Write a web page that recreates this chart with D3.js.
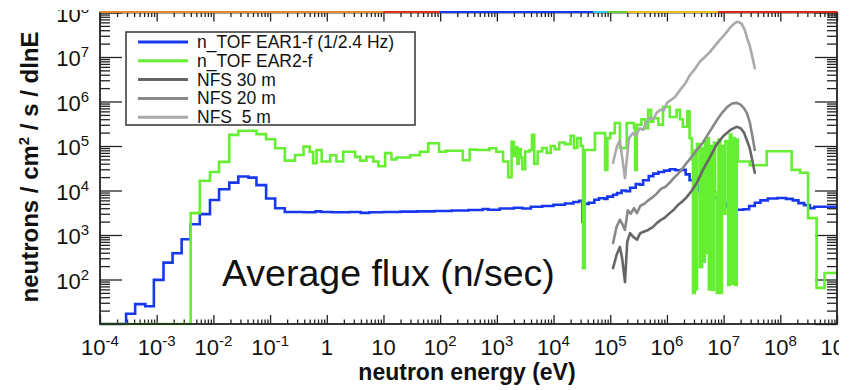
<!DOCTYPE html>
<html><head><meta charset="utf-8">
<script src="https://cdn.jsdelivr.net/npm/d3@7"></script>
<style>
body{margin:0;background:#fff}
svg{display:block}
text{font-family:Arial,"Liberation Sans",Helvetica,sans-serif;fill:#111}
</style>
</head><body>
<svg id="c" width="857" height="390"></svg>
<script>
// ---------------- DATA ----------------
// energy axis decades (exponents) and flux axis decades
const xTickExps = [-4,-3,-2,-1,0,1,2,3,4,5,6,7,8,9];
const yTickExps = [1,2,3,4,5,6,7,8];
const yLabelExps = [2,3,4,5,6,7,8];

// n_TOF EAR1 : [log10(E/eV) of bin start, flux]
const ear1Bins = [
 [-4.0,1],[-3.54,17],[-3.38,28],[-3.20,25],[-3.05,98],[-2.88,240],[-2.72,390],[-2.56,800],
 [-2.40,1740],[-2.24,2950],[-2.06,6100],[-1.90,10700],[-1.72,15000],[-1.56,20600],[-1.38,19500],
 [-1.24,13200],[-1.07,6600],[-0.91,3980],[-0.74,3300],[-0.40,3250],[-0.20,3400],[-0.10,3300],
 [0.10,3250],[0.40,3300],[0.60,3150],[0.75,3250],[1.00,3300],[1.30,3350],[1.60,3400],[1.90,3450],
 [2.20,3550],[2.50,3650],[2.75,3850],[2.85,3700],[3.05,3950],[3.30,4100],[3.45,3950],[3.60,4300],
 [3.80,4500],[4.00,4800],[4.20,5100],[4.35,5500],[4.45,5900],[4.51,2000],[4.54,5000],[4.62,5300],
 [4.72,6200],[4.80,6700],[4.90,6500],[4.95,7300],[5.05,8000],[5.12,8800],[5.20,10000],[5.28,9600],
 [5.35,11500],[5.45,14000],[5.52,13500],[5.58,17000],[5.68,21000],[5.76,24000],[5.85,26000],
 [5.95,28000],[6.05,30000],[6.15,28500],[6.25,29000],[6.33,23000],[6.40,17000],[6.48,13000],
 [6.56,9500],[6.64,7600],[6.75,6800],[6.90,5200],[7.05,4300],[7.20,3700],[7.35,3800],[7.45,4500],
 [7.55,5300],[7.65,6000],[7.78,6600],[7.95,6800],[8.10,6500],[8.22,6000],[8.32,5200],[8.42,4700],
 [8.52,4000],[8.60,4300]
];
const ear1End = 9.0;

// n_TOF EAR2 : [log10(E/eV) of bin start, flux]
const ear2Bins = [
 [-4.0,1],[-2.40,3100],[-2.24,16600],[-2.06,26000],[-1.90,44000],[-1.72,178000],[-1.56,220000],
 [-1.24,185000],[-1.07,142000],[-0.91,89000],[-0.74,47000],[-0.56,63000],[-0.41,97000],[-0.30,74000],
 [-0.24,41000],[-0.18,81000],[-0.09,45000],[0.06,62000],[0.17,45000],[0.29,74000],[0.50,57000],
 [0.59,47000],[0.70,57000],[0.82,45000],[0.91,35000],[1.03,69000],[1.14,50000],[1.23,55000],
 [1.47,62000],[1.64,74000],[1.79,115000],[1.98,74000],[2.10,78000],[2.40,48000],[2.52,83000],
 [2.64,81000],[2.87,89000],[2.99,74000],[3.11,45000],[3.20,20000],[3.26,125000],[3.30,60000],
 [3.33,95000],[3.36,40000],[3.39,85000],[3.42,55000],[3.45,30000],[3.50,75000],[3.58,81000],
 [3.62,178000],[3.66,40000],[3.72,75000],[3.80,90000],[3.88,70000],[3.95,100000],[4.02,85000],
 [4.10,120000],[4.20,110000],[4.30,170000],[4.36,90000],[4.42,150000],[4.48,100000],[4.52,180],
 [4.55,81000],[4.73,195000],[4.91,29000],[4.95,150000],[5.00,195000],[5.08,330000],[5.17,90000],
 [5.29,330000],[5.42,250000],[5.44,29000],[5.47,300000],[5.55,400000],[5.62,250000],[5.67,650000],
 [5.72,350000],[5.76,420000],[5.85,300000],[5.93,760000],[6.05,450000],[6.17,650000],[6.23,400000],
 [6.28,270000],[6.36,600000],[6.40,150000],[6.44,50000],[6.46,50],[6.49,80000],[6.51,60],
 [6.53,110000],[6.58,190],[6.62,90000],[6.64,250],[6.67,130000],[6.70,400],[6.72,150000],[6.74,60],
 [6.77,100000],[6.80,58],[6.83,120000],[6.85,9000],[6.88,50],[6.91,140000],[6.94,50],[6.97,100000],
 [6.99,3000],[7.03,130000],[7.08,75],[7.11,180000],[7.14,80],[7.17,150000],[7.20,75],[7.23,140000],
 [7.25,45000],[7.46,37000],[7.76,76000],[8.20,29000],[8.35,25000],[8.49,2400],[8.64,65],[8.78,140]
];
const ear2End = 9.0;

// NFS curves : [log10(E/eV), flux]
const nfs30 = [
 [5.05,180],[5.11,350],[5.17,540],[5.21,300],[5.26,87],[5.30,700],[5.35,1100],[5.41,900],[5.47,780],
 [5.53,1100],[5.60,1200],[5.67,1300],[5.75,1500],[5.83,1900],[5.90,2200],[5.97,2500],[6.05,3100],
 [6.13,3800],[6.20,4800],[6.28,5800],[6.35,7100],[6.44,10000],[6.53,15000],[6.64,30000],[6.76,56000],
 [6.88,110000],[7.00,170000],[7.12,230000],[7.23,270000],[7.30,250000],[7.36,200000],[7.41,135000],
 [7.46,90000],[7.51,45000],[7.55,25000]
];
const nfs20 = [
 [5.05,660],[5.11,1500],[5.17,2200],[5.22,1700],[5.26,1300],[5.31,3600],[5.36,3000],[5.42,4000],
 [5.47,3100],[5.53,4500],[5.60,5000],[5.67,6000],[5.75,7100],[5.82,8500],[5.90,11000],[5.97,12000],
 [6.05,15000],[6.12,19000],[6.20,24000],[6.28,32000],[6.35,42000],[6.45,60000],[6.54,85000],
 [6.63,117000],[6.72,180000],[6.80,260000],[6.88,380000],[6.97,550000],[7.06,750000],[7.15,900000],
 [7.23,930000],[7.30,850000],[7.36,700000],[7.41,550000],[7.46,350000],[7.51,160000],[7.55,81000]
];
const nfs5 = [
 [5.05,42000],[5.12,100000],[5.17,135000],[5.26,19000],[5.33,150000],[5.40,195000],[5.45,170000],
 [5.52,250000],[5.58,230000],[5.63,330000],[5.70,430000],[5.76,400000],[5.82,560000],[5.88,650000],
 [5.94,620000],[6.00,930000],[6.08,1100000],[6.15,1300000],[6.23,1800000],[6.32,2500000],
 [6.41,4000000],[6.50,5500000],[6.58,7800000],[6.67,10000000],[6.76,13000000],[6.85,18000000],
 [6.93,24000000],[7.02,32000000],[7.11,45000000],[7.18,55000000],[7.23,62000000],[7.28,60000000],
 [7.32,55000000],[7.37,42000000],[7.41,28000000],[7.46,18000000],[7.50,11000000],[7.55,5600000]
];

const legendLabels = ["n_TOF EAR1-f (1/2.4 Hz)","n_TOF EAR2-f","NFS 30 m","NFS 20 m","NFS  5 m"];
const legendColors = ["#1838f0","#66ee33","#666666","#888888","#aaaaaa"];

// decorative coloured strip on the top frame (from an underlying figure): edges (log10 E) & colours
const topStripEdges = [-4.0,1.0,2.0,4.7,4.95,5.3,6.9,9.0];
const topStripColors = ["#e8892a","#e0301c","#1838f0","#33ccee","#66cc33","#e8c020","#d8281c"];

// ---------------- DRAW ----------------
const svg = d3.select("#c");
const X0=100, X1=837, Y0=12.5, Y1=324;
const x = d3.scaleLog().domain([1e-4,1e9]).range([X0,X1]);
const y = d3.scaleLog().domain([10,1e8]).range([Y1,Y0]).clamp(true);

const defs = svg.append("defs");
defs.append("clipPath").attr("id","crop").append("rect").attr("x",0).attr("y",10).attr("width",839).attr("height",380);
defs.append("clipPath").attr("id","plot").append("rect").attr("x",X0).attr("y",Y0).attr("width",X1-X0).attr("height",Y1-Y0+1.5);

const root = svg.append("g").attr("clip-path","url(#crop)");

const isMajor = v => Math.abs(Math.log10(v)-Math.round(Math.log10(v)))<1e-9;
const majorX = xTickExps.map(k=>Math.pow(10,k));
const minorX = x.ticks(60).filter(v=>!isMajor(v));
const majorY = yTickExps.map(k=>Math.pow(10,k));
const minorY = y.ticks(60).filter(v=>!isMajor(v));

function axisStyle(g){ g.select(".domain").remove(); g.selectAll("line").attr("stroke","#222").attr("stroke-width",1.3); g.selectAll("text").remove(); }

root.append("g").attr("transform",`translate(0,${Y1})`).call(d3.axisBottom(x).tickValues(majorX).tickSize(-9)).call(axisStyle);
root.append("g").attr("transform",`translate(0,${Y1})`).call(d3.axisBottom(x).tickValues(minorX).tickSize(-4.5)).call(axisStyle);
root.append("g").attr("transform",`translate(0,${Y0})`).call(d3.axisTop(x).tickValues(majorX).tickSize(-9)).call(axisStyle);
root.append("g").attr("transform",`translate(0,${Y0})`).call(d3.axisTop(x).tickValues(minorX).tickSize(-4.5)).call(axisStyle);
root.append("g").attr("transform",`translate(${X0},0)`).call(d3.axisLeft(y).tickValues(majorY).tickSize(-22)).call(axisStyle);
root.append("g").attr("transform",`translate(${X0},0)`).call(d3.axisLeft(y).tickValues(minorY).tickSize(-10)).call(axisStyle);
root.append("g").attr("transform",`translate(${X1},0)`).call(d3.axisRight(y).tickValues(majorY).tickSize(-22)).call(axisStyle);
root.append("g").attr("transform",`translate(${X1},0)`).call(d3.axisRight(y).tickValues(minorY).tickSize(-10)).call(axisStyle);

// data
const plot = root.append("g").attr("clip-path","url(#plot)");
const stepLine = d3.line().x(d=>x(Math.pow(10,d[0]))).y(d=>y(d[1])).curve(d3.curveStepAfter);
const curveLine = d3.line().x(d=>x(Math.pow(10,d[0]))).y(d=>y(d[1]));

const ear1Pts = ear1Bins.concat([[ear1End, ear1Bins[ear1Bins.length-1][1]]]);
const ear2Pts = ear2Bins.concat([[ear2End, ear2Bins[ear2Bins.length-1][1]]]);

plot.append("path").attr("d",stepLine(ear1Pts)).attr("fill","none").attr("stroke",legendColors[0]).attr("stroke-width",2.6);
plot.append("path").attr("d",stepLine(ear2Pts)).attr("fill","none").attr("stroke",legendColors[1]).attr("stroke-width",2.6);
[[nfs30,legendColors[2]],[nfs20,legendColors[3]],[nfs5,legendColors[4]]].forEach(([d,c])=>{
  plot.append("path").attr("d",curveLine(d)).attr("fill","none").attr("stroke",c).attr("stroke-width",2.6).attr("stroke-linejoin","round").attr("stroke-linecap","round");
});

// frame
root.append("rect").attr("x",X0).attr("y",Y0).attr("width",X1-X0).attr("height",Y1-Y0).attr("fill","none").attr("stroke","#222").attr("stroke-width",1.8);

// top coloured strip
topStripColors.forEach((c,i)=>{
  root.append("line").attr("x1",x(Math.pow(10,topStripEdges[i]))).attr("x2",x(Math.pow(10,topStripEdges[i+1])))
    .attr("y1",Y0-0.5).attr("y2",Y0-0.5).attr("stroke",c).attr("stroke-width",2);
});

// tick labels
function powLabel(sel, k, main, sup){
  if(k===0){ sel.text("1"); return; }
  if(k===1){ sel.text("10"); return; }
  sel.append("tspan").text("10");
  sel.append("tspan").attr("dy",-9).attr("font-size",sup).text(String(k));
}
xTickExps.forEach(k=>{
  const t = root.append("text").attr("x",x(Math.pow(10,k))).attr("y",355).attr("text-anchor","middle").attr("font-size",22);
  powLabel(t,k,22,15);
});
yLabelExps.forEach(k=>{
  const t = root.append("text").attr("x",89).attr("y",y(Math.pow(10,k))+9).attr("text-anchor","end").attr("font-size",22);
  powLabel(t,k,22,15);
});

// axis titles
root.append("text").attr("x",467).attr("y",380).attr("text-anchor","middle").attr("font-size",23).attr("font-weight","bold").text("neutron energy (eV)");
const yt = root.append("text").attr("transform","translate(38,167) rotate(-90)").attr("text-anchor","middle").attr("font-size",24).attr("font-weight","bold");
yt.append("tspan").text("neutrons / cm");
yt.append("tspan").attr("dy",-9).attr("font-size",15).text("2");
yt.append("tspan").attr("dy",9).text(" / s / dlnE");

// legend
const lg = root.append("g");
lg.append("rect").attr("x",126).attr("y",32).attr("width",289).attr("height",93).attr("fill","#fff").attr("stroke","#333").attr("stroke-width",1.5);
legendLabels.forEach((l,i)=>{
  const yy = 42 + i*18.8;
  lg.append("line").attr("x1",138).attr("x2",188).attr("y1",yy).attr("y2",yy).attr("stroke",legendColors[i]).attr("stroke-width",3);
  lg.append("text").attr("x",197).attr("y",yy+6).attr("font-size",17.5).text(l).style("white-space","pre").attr("xml:space","preserve");
});

// annotation
root.append("text").attr("x",222).attr("y",286).attr("font-size",37.5).text("Average flux (n/sec)");
</script>
</body></html>
